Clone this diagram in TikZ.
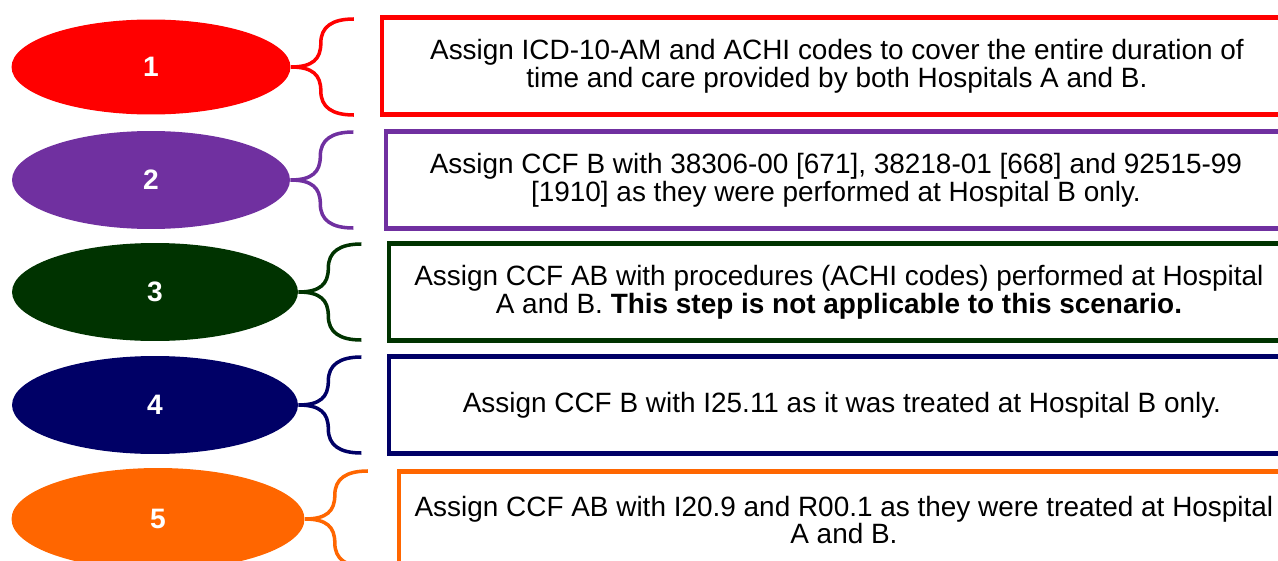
\documentclass[tikz,border=0pt]{standalone}
\usepackage{fontspec}
\setmainfont{Liberation Sans}
\usetikzlibrary{shapes.geometric}

\definecolor{stepred}{HTML}{FF0000}
\definecolor{steppurple}{HTML}{7030A0}
\definecolor{stepgreen}{HTML}{003300}
\definecolor{stepnavy}{HTML}{000066}
\definecolor{steporange}{HTML}{FF6600}

\begin{document}
\begin{tikzpicture}[x=0.02cm, y=-0.02cm,
    oval/.style={ellipse, inner sep=0pt, text=white, font=\fontsize{16}{16}\selectfont\bfseries},
    textbox/.style={draw, line width=2.3pt, anchor=west, minimum height=1.94cm, align=center, font=\fontsize{15.9}{15.9}\selectfont},
    curl/.style={line width=2pt}]
    \useasboundingbox (0,0) rectangle (1278,561);
    \clip (0,0) rectangle (1278,561);

    % step 1
    \node[oval, fill=stepred, minimum width=5.58cm, minimum height=1.9cm] (e1) at (151,67) {1};
    \draw[curl, stepred] (e1.east) .. controls +(22,0) and +(0,16) .. ++(30,-24) .. controls +(0,-16) and +(-22,0) .. ++(33,-24)
        (e1.east) .. controls +(22,0) and +(0,-16) .. ++(30,24) .. controls +(0,16) and +(-22,0) .. ++(33,24);
    \node[textbox, draw=stepred, minimum width=18.2cm] (b1) at (380,66)
        {Assign ICD-10-AM and ACHI codes to cover the entire duration of\\ time and care provided by both Hospitals A and B.};

    % step 2
    \node[oval, fill=steppurple, minimum width=5.56cm, minimum height=1.96cm] (e2) at (151,180) {2};
    \draw[curl, steppurple] (e2.east) .. controls +(22,0) and +(0,16) .. ++(30,-24) .. controls +(0,-16) and +(-22,0) .. ++(33,-24)
        (e2.east) .. controls +(22,0) and +(0,-16) .. ++(30,24) .. controls +(0,16) and +(-22,0) .. ++(33,24);
    \node[textbox, draw=steppurple, minimum width=18cm] (b2) at (384,180)
        {Assign CCF B with 38306-00 [671], 38218-01 [668] and 92515-99\\ {[1910]} as they were performed at Hospital B only.};

    % step 3
    \node[oval, fill=stepgreen, minimum width=5.72cm, minimum height=1.96cm] (e3) at (155,292) {3};
    \draw[curl, stepgreen] (e3.east) .. controls +(22,0) and +(0,16) .. ++(30,-24) .. controls +(0,-16) and +(-22,0) .. ++(33,-24)
        (e3.east) .. controls +(22,0) and +(0,-16) .. ++(30,24) .. controls +(0,16) and +(-22,0) .. ++(33,24);
    \node[textbox, draw=stepgreen, minimum width=18cm] (b3) at (387,292)
        {Assign CCF AB with procedures (ACHI codes) performed at Hospital\\ A and B. \textbf{This step is not applicable to this scenario.}};

    % step 4
    \node[oval, fill=stepnavy, minimum width=5.72cm, minimum height=1.96cm] (e4) at (155,405) {4};
    \draw[curl, stepnavy] (e4.east) .. controls +(22,0) and +(0,16) .. ++(30,-24) .. controls +(0,-16) and +(-22,0) .. ++(33,-24)
        (e4.east) .. controls +(22,0) and +(0,-16) .. ++(30,24) .. controls +(0,16) and +(-22,0) .. ++(33,24);
    \node[textbox, draw=stepnavy, minimum width=18.12cm] (b4) at (387,405)
        {Assign CCF B with I25.11 as it was treated at Hospital B only.};

    % step 5
    \node[oval, fill=steporange, minimum width=5.86cm, minimum height=2.04cm] (e5) at (158,519) {5};
    \draw[curl, steporange] (e5.east) .. controls +(22,0) and +(0,16) .. ++(30,-24) .. controls +(0,-16) and +(-22,0) .. ++(33,-24)
        (e5.east) .. controls +(22,0) and +(0,-16) .. ++(30,24) .. controls +(0,16) and +(-22,0) .. ++(33,24);
    \node[textbox, draw=steporange, minimum width=17.8cm] (b5) at (397,520)
        {Assign CCF AB with I20.9 and R00.1 as they were treated at Hospital\\ A and B.};
\end{tikzpicture}
\end{document}
